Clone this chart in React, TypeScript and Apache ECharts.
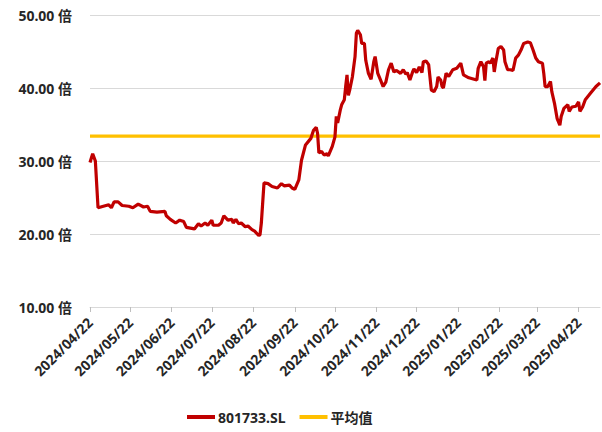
import React, { useEffect, useRef } from "react";
import * as echarts from "echarts";

// Daily valuation multiple of index 801733.SL (date, value in 倍)
const dates: string[] = [
  "2024-04-22", "2024-04-24", "2024-04-26", "2024-04-28", "2024-05-02", "2024-05-06", "2024-05-08", "2024-05-10",
  "2024-05-13", "2024-05-16", "2024-05-21", "2024-05-24", "2024-05-28", "2024-06-01", "2024-06-04", "2024-06-06",
  "2024-06-11", "2024-06-17", "2024-06-18", "2024-06-21", "2024-06-25", "2024-06-28", "2024-07-01", "2024-07-03",
  "2024-07-09", "2024-07-12", "2024-07-14", "2024-07-17", "2024-07-19", "2024-07-22", "2024-07-23", "2024-07-27",
  "2024-07-29", "2024-07-31", "2024-08-03", "2024-08-06", "2024-08-07", "2024-08-09", "2024-08-11", "2024-08-13",
  "2024-08-16", "2024-08-18", "2024-08-21", "2024-08-23", "2024-08-26", "2024-08-27", "2024-08-28", "2024-08-30",
  "2024-09-02", "2024-09-05", "2024-09-09", "2024-09-12", "2024-09-14", "2024-09-18", "2024-09-20", "2024-09-22",
  "2024-09-25", "2024-09-27", "2024-09-30", "2024-10-04", "2024-10-06", "2024-10-08", "2024-10-09", "2024-10-10",
  "2024-10-12", "2024-10-14", "2024-10-16", "2024-10-17", "2024-10-20", "2024-10-22", "2024-10-23", "2024-10-24",
  "2024-10-26", "2024-10-27", "2024-10-29", "2024-10-30", "2024-10-31", "2024-11-01", "2024-11-02", "2024-11-04",
  "2024-11-06", "2024-11-07", "2024-11-08", "2024-11-10", "2024-11-11", "2024-11-13", "2024-11-14", "2024-11-16",
  "2024-11-18", "2024-11-20", "2024-11-21", "2024-11-23", "2024-11-25", "2024-11-27", "2024-11-29", "2024-12-01",
  "2024-12-03", "2024-12-05", "2024-12-07", "2024-12-10", "2024-12-12", "2024-12-14", "2024-12-15", "2024-12-17",
  "2024-12-19", "2024-12-20", "2024-12-22", "2024-12-24", "2024-12-26", "2024-12-27", "2024-12-29", "2024-12-31",
  "2025-01-02", "2025-01-04", "2025-01-06", "2025-01-07", "2025-01-09", "2025-01-10", "2025-01-11", "2025-01-13",
  "2025-01-15", "2025-01-18", "2025-01-21", "2025-01-24", "2025-01-26", "2025-01-30", "2025-02-05", "2025-02-06",
  "2025-02-08", "2025-02-10", "2025-02-11", "2025-02-12", "2025-02-14", "2025-02-15", "2025-02-17", "2025-02-18",
  "2025-02-19", "2025-02-21", "2025-02-23", "2025-02-25", "2025-02-26", "2025-02-28", "2025-03-02", "2025-03-04",
  "2025-03-06", "2025-03-08", "2025-03-10", "2025-03-12", "2025-03-15", "2025-03-17", "2025-03-19", "2025-03-21",
  "2025-03-23", "2025-03-26", "2025-03-27", "2025-03-28", "2025-03-30", "2025-04-01", "2025-04-02", "2025-04-04",
  "2025-04-06", "2025-04-08", "2025-04-09", "2025-04-11", "2025-04-14", "2025-04-15", "2025-04-17", "2025-04-20",
  "2025-04-22", "2025-04-23", "2025-04-25", "2025-04-27", "2025-05-01", "2025-05-05", "2025-05-08",
];

const values: number[] = [
  29.8, 31.0, 30.0, 23.6, 23.8, 24.0, 23.6, 24.4,
  24.4, 23.9, 23.8, 23.6, 24.1, 23.7, 23.8, 23.1,
  23.0, 23.1, 22.5, 22.0, 21.5, 21.9, 21.7, 20.9,
  20.7, 21.4, 21.1, 21.5, 21.2, 21.9, 21.2, 21.2,
  21.5, 22.5, 21.9, 22.0, 21.5, 22.0, 21.4, 21.5,
  21.0, 21.1, 20.6, 20.4, 19.8, 19.9, 21.5, 27.0,
  26.9, 26.5, 26.3, 26.9, 26.6, 26.7, 26.3, 26.1,
  27.4, 30.1, 32.2, 33.1, 34.2, 34.6, 33.8, 31.1,
  31.3, 30.8, 31.0, 30.7, 32.0, 33.3, 36.1, 35.2,
  37.0, 37.7, 38.4, 40.2, 41.8, 39.0, 39.7, 41.5,
  44.3, 47.5, 47.9, 47.3, 46.1, 46.1, 43.8, 42.0,
  41.2, 43.6, 44.3, 42.0, 41.1, 40.2, 40.8, 42.5,
  43.4, 42.2, 42.4, 42.0, 42.5, 41.9, 42.1, 41.1,
  42.2, 42.6, 42.1, 42.9, 42.1, 43.6, 43.7, 43.2,
  39.7, 39.5, 40.2, 41.5, 41.1, 40.2, 40.0, 42.0,
  41.6, 42.5, 42.7, 43.4, 41.8, 41.4, 41.1, 42.7,
  43.6, 42.9, 41.0, 43.4, 43.6, 43.4, 44.1, 42.2,
  43.4, 45.4, 45.7, 45.2, 43.6, 42.5, 42.5, 42.4,
  44.1, 44.5, 45.2, 46.1, 46.3, 46.2, 45.2, 44.1,
  43.6, 43.4, 42.0, 40.2, 40.2, 40.9, 39.5, 37.9,
  35.8, 34.9, 36.1, 37.2, 37.7, 36.8, 37.4, 37.5,
  38.1, 36.8, 37.4, 38.4, 39.3, 40.2, 40.7,
];

// Mean of the whole period
const averageValue = 33.4;

// Day of month on which the date axis is ticked and labelled
const tickDay = 22;

const seriesName = "801733.SL";
const averageName = "平均值";

const pad = (n: number) => (n < 10 ? "0" + n : "" + n);
const parseDate = (s: string): Date => {
  const [y, m, d] = s.split("-").map(Number);
  return new Date(y, m - 1, d);
};
const fmt = (d: Date): string => `${d.getFullYear()}/${pad(d.getMonth() + 1)}/${pad(d.getDate())}`;

// Every calendar day between the first and last observation forms the date axis
const buildCalendar = (from: string, to: string): string[] => {
  const out: string[] = [];
  const cur = parseDate(from);
  const end = parseDate(to).getTime();
  while (cur.getTime() <= end) {
    out.push(fmt(cur));
    cur.setDate(cur.getDate() + 1);
  }
  return out;
};

const FONT = '"Noto Sans", "Noto Sans CJK SC", sans-serif';

export default function App() {
  const ref = useRef<HTMLDivElement>(null);

  useEffect(() => {
    if (!ref.current) return;
    const chart = echarts.init(ref.current, undefined, { renderer: "svg" });

    const calendar = buildCalendar(dates[0], dates[dates.length - 1]);
    const lookup = new Map<string, number>();
    dates.forEach((d, i) => lookup.set(fmt(parseDate(d)), values[i]));
    const lineData = calendar.map((c) => (lookup.has(c) ? lookup.get(c)! : null));
    const avgData = calendar.map((_, i) => (i === 0 || i === calendar.length - 1 ? averageValue : null));
    const isTick = (_: number, v: string) => v.endsWith("/" + pad(tickDay));

    chart.setOption({
      animation: false,
      backgroundColor: "#ffffff",
      grid: { left: 90, right: 2, top: 15, bottom: 125, containLabel: false },
      legend: {
        bottom: 3,
        left: 182,
        icon: "rect",
        itemWidth: 28,
        itemHeight: 4,
        itemGap: 14,
        textStyle: { fontFamily: FONT, fontSize: 14, fontWeight: "bold", color: "#262626", padding: [0, 0, 0, -2] },
        data: [seriesName, averageName],
      },
      xAxis: {
        type: "category",
        data: calendar,
        boundaryGap: false,
        axisLine: { show: true, lineStyle: { color: "#d9d9d9", width: 1 } },
        axisTick: {
          show: true,
          length: 5,
          alignWithLabel: true,
          interval: isTick,
          lineStyle: { color: "#bfbfbf" },
        },
        axisLabel: {
          interval: isTick,
          rotate: 45,
          margin: 13,
          fontFamily: FONT,
          fontSize: 14,
          fontWeight: "bold",
          color: "#262626",
        },
        splitLine: { show: false },
      },
      yAxis: {
        type: "value",
        min: 10,
        max: 50,
        interval: 10,
        axisLine: { show: false },
        axisTick: { show: false },
        axisLabel: {
          margin: 18,
          fontFamily: FONT,
          fontSize: 14,
          fontWeight: "bold",
          color: "#262626",
          formatter: (v: number) => `${v.toFixed(2)} 倍`,
        },
        splitLine: { show: true, lineStyle: { color: "#d9d9d9", width: 1 } },
      },
      series: [
        {
          name: seriesName,
          type: "line",
          symbol: "none",
          connectNulls: true,
          data: lineData,
          lineStyle: { color: "#C00000", width: 3.2 },
          itemStyle: { color: "#C00000" },
          z: 3,
        },
        {
          name: averageName,
          type: "line",
          symbol: "none",
          connectNulls: true,
          data: avgData,
          lineStyle: { color: "#FFC000", width: 3.2 },
          itemStyle: { color: "#FFC000" },
          z: 2,
        },
      ],
    });

    return () => chart.dispose();
  }, []);

  return (
    <div
      ref={ref}
      style={{ position: "fixed", left: 0, top: 0, width: 602, height: 432, background: "#fff" }}
    />
  );
}
